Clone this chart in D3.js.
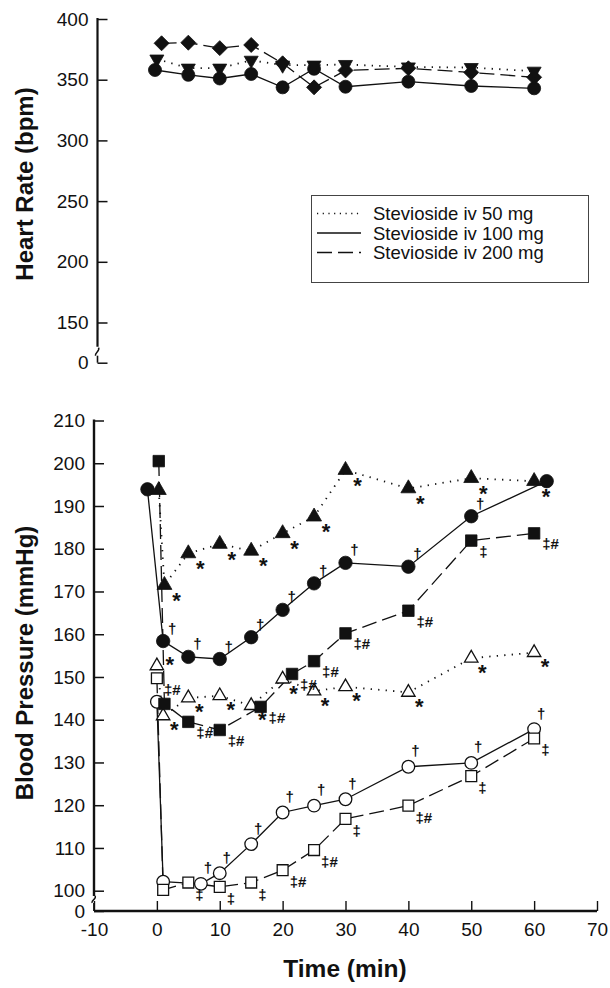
<!DOCTYPE html>
<html><head><meta charset="utf-8">
<script src="https://cdn.jsdelivr.net/npm/d3@7"></script>
<style>body{margin:0;background:#fff} svg{display:block} text{font-family:"Liberation Sans",Arial,sans-serif;fill:#111}</style>
</head><body>
<svg id="c" width="610" height="988"></svg>
<script>
// ---------- DATA ----------
// Heart rate (bpm)
const hrTimes50  = [0, 5, 10, 15, 20, 25, 30, 40, 50, 60];
const hr50       = [367, 359.5, 359.5, 366, 362, 362, 362.5, 360.5, 360, 357];
const hrTimes100 = [-0.3, 5, 10, 15, 20, 25, 30, 40, 50, 60];
const hr100      = [358, 354, 351, 354.7, 343.7, 359, 344.2, 348.4, 344.8, 342.9];
const hrTimes200 = [0.75, 5, 10, 15, 20, 25, 30, 40, 50, 60];
const hr200      = [380, 380.5, 376, 378.6, 363.5, 343.7, 357.6, 359.4, 356, 352];

// Blood pressure (mmHg): filled = systolic, open = diastolic
const sbp50Times  = [0.3, 1.2, 5, 10, 15, 20, 25, 30, 40, 50, 60];
const sbp50       = [193.7, 171.5, 178.9, 181.1, 179.5, 183.6, 187.5, 198.4, 194.1, 196.5, 195.8];
const sbp50Marks  = ["", "*", "*", "*", "*", "*", "*", "*", "*", "*", "*"];

const sbp100Times = [-1.5, 1, 5, 10, 15, 20, 25, 30, 40, 50, 62];
const sbp100      = [193.9, 158.4, 154.7, 154.2, 159.3, 165.7, 171.9, 176.7, 175.8, 187.6, 195.8];
const sbp100Marks = ["", "†", "†", "†", "†", "†", "†", "†", "†", "†", ""];

const sbp200Times = [0.3, 1.2, 5, 10, 16.5, 21.5, 25, 30, 40, 50, 60];
const sbp200      = [200.5, 143.7, 139.5, 137.6, 143.0, 150.7, 153.7, 160.2, 165.5, 181.9, 183.6];
const sbp200Marks = ["", "", "‡#", "‡#", "‡#", "‡#", "‡#", "‡#", "‡#", "‡", "‡#"];

const dbp50Times  = [0, 1, 5, 10, 15, 20, 25, 30, 40, 50, 60];
const dbp50       = [152.6, 140.9, 145.1, 145.6, 143.3, 149.5, 146.7, 147.7, 146.4, 154.4, 155.7];
const dbp50Marks  = ["*", "*", "*", "*", "*", "*", "*", "*", "*", "*", "*"];

const dbp100Times = [0, 1, 7, 10, 15, 20, 25, 30, 40, 50, 60];
const dbp100      = [144.2, 102.1, 101.6, 104.1, 110.9, 118.3, 119.9, 121.4, 129.0, 129.9, 137.8];
const dbp100Marks = ["", "", "†", "†", "†", "†", "†", "†", "†", "†", "†"];

const dbp200Times = [0, 1, 5, 10, 15, 20, 25, 30, 40, 50, 60];
const dbp200      = [149.7, 100.2, 101.9, 100.9, 101.9, 104.8, 109.5, 116.8, 119.9, 126.8, 135.6];
const dbp200Marks = ["‡#", "", "‡", "‡", "‡", "‡#", "‡#", "‡", "‡#", "‡", "‡"];

const hrTicks = [0, 150, 200, 250, 300, 350, 400];
const bpTicks = [0, 100, 110, 120, 130, 140, 150, 160, 170, 180, 190, 200, 210];
const timeTicks = [-10, 0, 10, 20, 30, 40, 50, 60, 70];
const legendLabels = ["Stevioside iv 50 mg", "Stevioside iv 100 mg", "Stevioside iv 200 mg"];

// ---------- SCALES ----------
const svg = d3.select("#c");
const x = d3.scaleLinear().domain([-10, 70]).range([94, 597]);
const yHR = d3.scaleLinear().domain([0, 150, 400]).range([362.7, 322.5, 19]);
const yBP = d3.scaleLinear().domain([0, 100, 210]).range([911, 890.7, 420.5]);
const hrAxisX = 97.5;

const dashStyle = {solid: null, dot: "1.3,6.2", dash: "15,6"};
const INK = "#111";

function zip(ts, vs) { return ts.map((t, i) => ({t, v: vs[i], i})); }

// ---------- AXES ----------
const gHR = svg.append("g").attr("transform", `translate(${hrAxisX},0)`);
gHR.call(d3.axisLeft(yHR).tickValues(hrTicks).tickSize(-10).tickPadding(9).tickFormat(d => String(d)));
gHR.select(".domain").remove();
gHR.selectAll(".tick line").attr("stroke", INK).attr("stroke-width", 1.5);
gHR.selectAll(".tick text").style("font-size", "19px").attr("fill", INK);
gHR.append("line").attr("x1", 0).attr("x2", 0).attr("y1", yHR(400) - 1).attr("y2", yHR(0) - 16)
  .attr("stroke", INK).attr("stroke-width", 2.2);
gHR.append("path").attr("d", `M-2,${yHR(0) - 7} C-3,${yHR(0) - 10} 3,${yHR(0) - 12} 1,${yHR(0) - 15}`)
  .attr("fill", "none").attr("stroke", INK).attr("stroke-width", 1.5);
gHR.append("line").attr("x1", 0).attr("x2", 0).attr("y1", yHR(0) - 7).attr("y2", yHR(0))
  .attr("stroke", INK).attr("stroke-width", 1.6);

const gBP = svg.append("g").attr("transform", `translate(${x(-10)},0)`);
gBP.call(d3.axisLeft(yBP).tickValues(bpTicks).tickSize(-10).tickPadding(9).tickFormat(d => String(d)));
gBP.select(".domain").remove();
gBP.selectAll(".tick line").attr("stroke", INK).attr("stroke-width", 1.5);
gBP.selectAll(".tick text").style("font-size", "19px").attr("fill", INK);
gBP.append("line").attr("x1", 0).attr("x2", 0).attr("y1", yBP(210) - 1).attr("y2", yBP(0) - 15)
  .attr("stroke", INK).attr("stroke-width", 2.4);
gBP.append("path").attr("d", `M-2,${yBP(0) - 8} C-3,${yBP(0) - 11} 3,${yBP(0) - 12} 1,${yBP(0) - 15}`)
  .attr("fill", "none").attr("stroke", INK).attr("stroke-width", 1.5);
gBP.append("line").attr("x1", 0).attr("x2", 0).attr("y1", yBP(0) - 8).attr("y2", yBP(0))
  .attr("stroke", INK).attr("stroke-width", 1.8);

const gX = svg.append("g").attr("transform", `translate(0,${yBP(0)})`);
gX.call(d3.axisBottom(x).tickValues(timeTicks).tickSize(-10).tickPadding(12).tickFormat(d => String(d)));
gX.select(".domain").remove();
gX.selectAll(".tick line").attr("stroke", INK).attr("stroke-width", 1.4);
gX.selectAll(".tick text").style("font-size", "19px").attr("fill", INK);
gX.append("line").attr("x1", x(-10)).attr("x2", x(70)).attr("y1", 0).attr("y2", 0)
  .attr("stroke", INK).attr("stroke-width", 2.6);

svg.append("text").attr("transform", "translate(33,184) rotate(-90)").attr("text-anchor", "middle")
  .style("font-size", "24px").style("font-weight", "bold").text("Heart Rate (bpm)");
svg.append("text").attr("transform", "translate(33,663) rotate(-90)").attr("text-anchor", "middle")
  .style("font-size", "24px").style("font-weight", "bold").text("Blood Pressure (mmHg)");
svg.append("text").attr("x", 345).attr("y", 977).attr("text-anchor", "middle")
  .style("font-size", "24.5px").style("font-weight", "bold").text("Time (min)");

// ---------- MARK HELPERS ----------
function drawLine(g, data, y, style) {
  g.append("path").datum(data)
    .attr("d", d3.line().x(d => x(d.t)).y(d => y(d.v)))
    .attr("fill", "none").attr("stroke", INK)
    .attr("stroke-width", style === "dot" ? 1.8 : 1.3)
    .attr("stroke-dasharray", dashStyle[style]);
}
function drawMarkers(g, data, y, type, size, filled, rotate) {
  g.selectAll(null).data(data).enter().append("path")
    .attr("transform", d => `translate(${x(d.t)},${y(d.v)}) rotate(${rotate || 0})`)
    .attr("d", d3.symbol().type(type).size(size)())
    .attr("fill", filled ? INK : "#fff")
    .attr("stroke", INK).attr("stroke-width", filled ? 0.8 : 1.3);
}
// annotation placement rules (the baseline point of the open-triangle series is labelled above)
const annStyle = {
  star:  {dx: 12, dy: 10, anchor: "middle", size: 22, shift: "0.57em"},
  starO: {dx: 11, dy: 9, firstDx: 13, firstDy: -6, anchor: "middle", size: 22, shift: "0.57em"},
  dagF:  {dx: 9,  dy: -12, anchor: "middle", size: 15, shift: "0.3em"},
  dagO:  {dx: 7,  dy: -15, anchor: "middle", size: 15, shift: "0.3em"},
  ddF:   {dx: 8,  dy: 11, anchor: "start", size: 15, shift: "0.33em"},
  ddO:   {dx: 7,  dy: 12, anchor: "start", size: 15, shift: "0.33em"}
};
function annotate(g, data, marks, y, kind) {
  const s = annStyle[kind];
  const ox = d => (d.i === 0 && s.firstDx !== undefined) ? s.firstDx : s.dx;
  const oy = d => (d.i === 0 && s.firstDy !== undefined) ? s.firstDy : s.dy;
  g.selectAll(null).data(data.map(d => ({...d, m: marks[d.i]})).filter(d => d.m)).enter()
    .append("text")
    .attr("x", d => x(d.t) + ox(d)).attr("y", d => y(d.v) + oy(d)).attr("dy", s.shift)
    .attr("text-anchor", s.anchor).style("font-size", s.size + "px").style("font-weight", "bold")
    .text(d => d.m);
}

// ---------- HEART RATE ----------
const gH = svg.append("g");
const d50 = zip(hrTimes50, hr50), d100 = zip(hrTimes100, hr100), d200 = zip(hrTimes200, hr200);
drawLine(gH, d50, yHR, "dot");
drawLine(gH, d100, yHR, "solid");
drawLine(gH, d200, yHR, "dash");
drawMarkers(gH, d100, yHR, d3.symbolCircle, 133, true);
drawMarkers(gH, d200, yHR, d3.symbolSquare, 112, true, 45);
drawMarkers(gH, d50, yHR, d3.symbolTriangle, 85, true, 180);

// Legend
const lg = svg.append("g");
lg.append("rect").attr("x", 311.5).attr("y", 195.5).attr("width", 277).attr("height", 87)
  .attr("fill", "#fff").attr("stroke", "#444").attr("stroke-width", 1);
const legendStyles = ["dot", "solid", "dash"];
legendLabels.forEach((lab, i) => {
  const cy = 213.5 + i * 19.5;
  lg.append("line").attr("x1", 317).attr("x2", 361).attr("y1", cy).attr("y2", cy)
    .attr("stroke", INK).attr("stroke-width", legendStyles[i] === "dot" ? 1.4 : 1.3)
    .attr("stroke-dasharray", legendStyles[i] === "dot" ? "1.2,4.5" : dashStyle[legendStyles[i]]);
  lg.append("text").attr("x", 373).attr("y", cy).attr("dy", "0.36em")
    .style("font-size", "18.5px").text(lab);
});

// ---------- BLOOD PRESSURE ----------
const gB = svg.append("g");
const s50 = zip(sbp50Times, sbp50), s100 = zip(sbp100Times, sbp100), s200 = zip(sbp200Times, sbp200);
const o50 = zip(dbp50Times, dbp50), o100 = zip(dbp100Times, dbp100), o200 = zip(dbp200Times, dbp200);
drawLine(gB, s50, yBP, "dot");
drawLine(gB, s100, yBP, "solid");
drawLine(gB, s200, yBP, "dash");
drawLine(gB, o50, yBP, "dot");
drawLine(gB, o100, yBP, "solid");
drawLine(gB, o200, yBP, "dash");

drawMarkers(gB, o100, yBP, d3.symbolCircle, 125, false);
drawMarkers(gB, o200, yBP, d3.symbolSquare, 118, false);
drawMarkers(gB, o50, yBP, d3.symbolTriangle, 78, false);
drawMarkers(gB, s100, yBP, d3.symbolCircle, 141, true);
drawMarkers(gB, s50, yBP, d3.symbolTriangle, 97, true);
drawMarkers(gB, s200, yBP, d3.symbolSquare, 132, true);

annotate(gB, s50, sbp50Marks, yBP, "star");
annotate(gB, s100, sbp100Marks, yBP, "dagF");
annotate(gB, s200, sbp200Marks, yBP, "ddF");
annotate(gB, o50, dbp50Marks, yBP, "starO");
annotate(gB, o100, dbp100Marks, yBP, "dagO");
annotate(gB, o200, dbp200Marks, yBP, "ddO");
</script>
</body></html>
